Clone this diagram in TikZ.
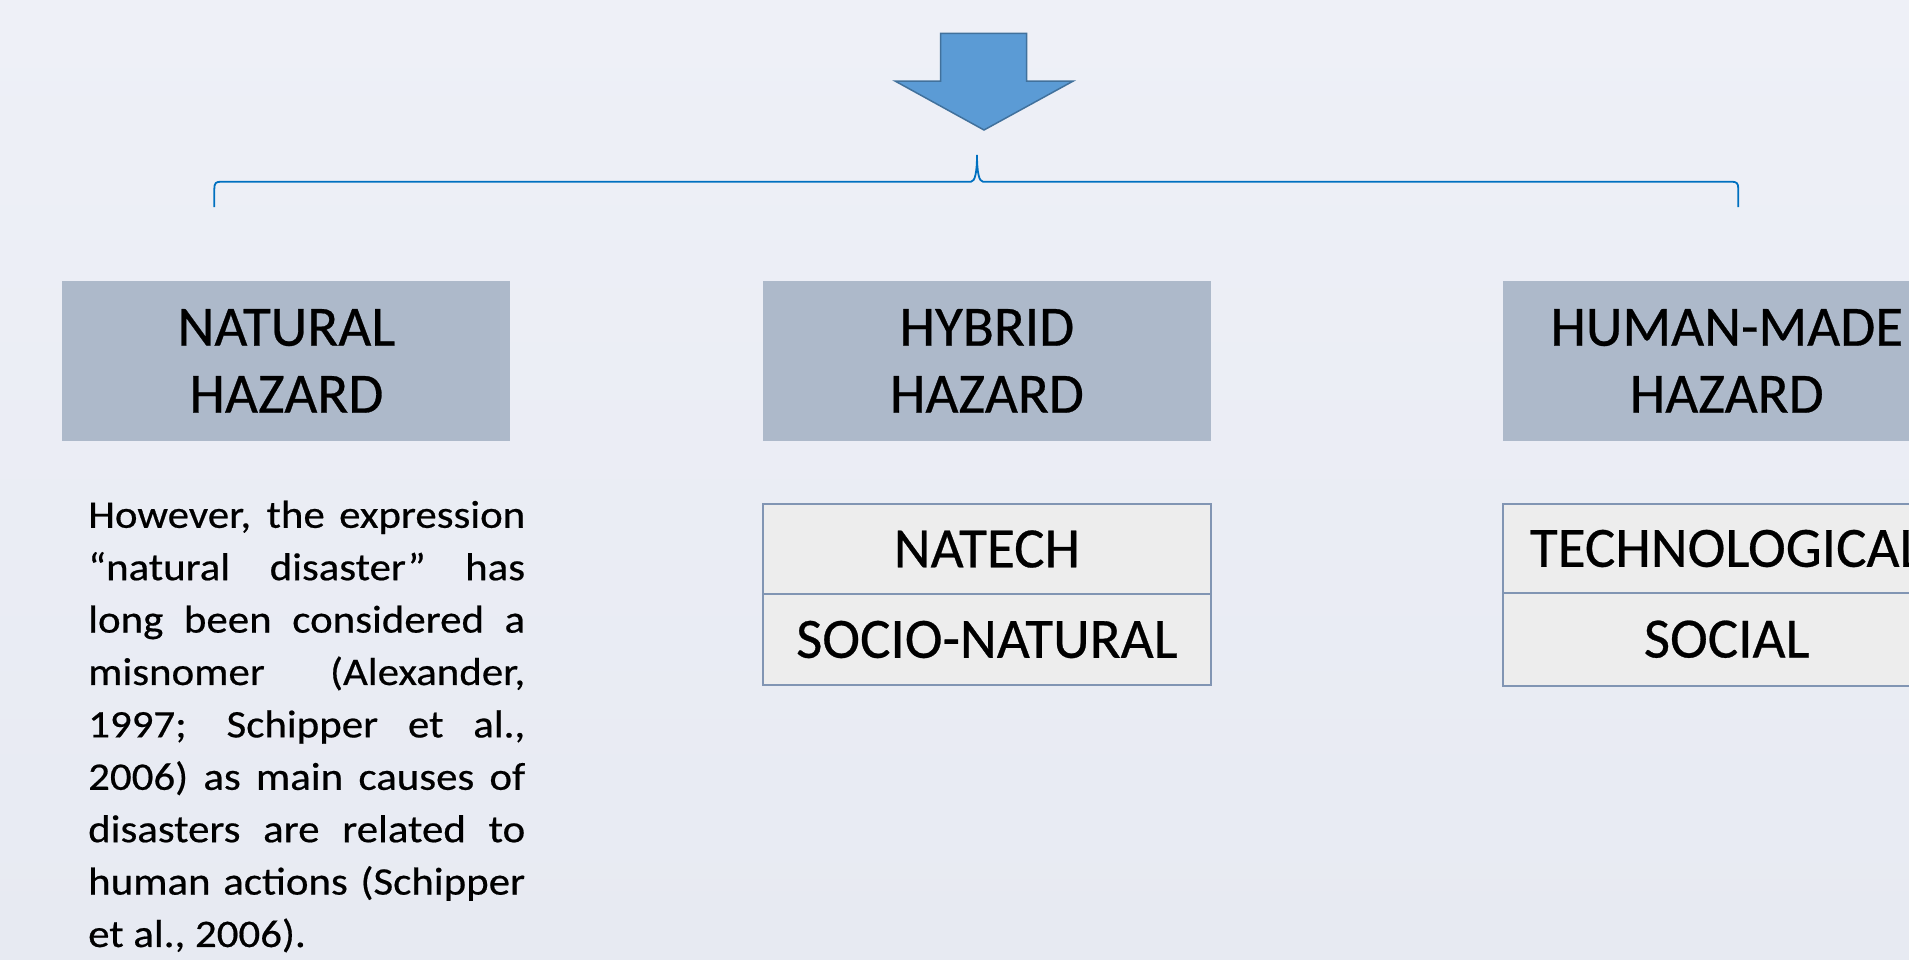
\documentclass[tikz,border=0pt]{standalone}
\usepackage{fontspec}
\setmainfont{Carlito}
\newfontfamily\hdrfont[FakeBold=0.5]{Carlito}
\newfontfamily\parafont[FakeStretch=1.10,FakeBold=0.5]{Carlito}
\definecolor{bgtop}{HTML}{EEF0F7}
\definecolor{bgbot}{HTML}{E7EAF2}
\definecolor{arrowfill}{HTML}{5B9BD5}
\definecolor{arrowline}{HTML}{41719C}
\definecolor{bracecol}{HTML}{0070C0}
\definecolor{hdrfill}{HTML}{ADB9CA}
\definecolor{subfill}{HTML}{EDEDED}
\definecolor{subline}{HTML}{8195B3}
\begin{document}
\begin{tikzpicture}[x=1pt,y=-1pt,
  hdr/.style={fill=hdrfill, inner sep=0pt, align=center, minimum width=448pt, minimum height=159.7pt,
    font=\hdrfont\fontsize{57}{67}\selectfont},
  subbox/.style={draw=subline, line width=2pt, fill=subfill, inner sep=0pt, minimum width=448pt,
    font=\hdrfont\fontsize{57}{67}\selectfont},
  bigarrow/.style={fill=arrowfill, draw=arrowline, line width=1.5pt, line join=miter},
  bracestyle/.style={draw=bracecol, line width=1.8pt},
  para/.style={inner sep=0pt, align=left, anchor=north west,
    font=\parafont\fontsize{39}{52.4}\selectfont}
]
\fill[top color=bgtop, bottom color=bgbot] (0,0) rectangle (1909,959);
\useasboundingbox (0,0) rectangle (1909,959);
\clip (0,0) rectangle (1909,959);

% big down arrow
\path[bigarrow] (940.7,33.3) -- (1026.7,33.3) -- (1026.7,81) -- (1073.3,81) -- (984,130)
  -- (895,81) -- (940.7,81) -- cycle;

% brace
\coordinate (bl) at (214.3,207);
\coordinate (br) at (1738.3,207);
\coordinate (bt) at (977,155);
\draw[bracestyle] (bl) -- (214.3,189) .. controls (214.3,183) and (216,181.7) .. (221,181.7)
  -- (971,181.7) .. controls (975,181.7) and (977,172) .. (bt)
  .. controls (977,172) and (979,181.7) .. (983,181.7)
  -- (1731.5,181.7) .. controls (1736.5,181.7) and (1738.3,183) .. (1738.3,189) -- (br);

% headers
\node[hdr] (nat) at (286.4,360.9) {NATURAL\\HAZARD};
\node[hdr] (hyb) at (986.9,360.9) {HYBRID\\HAZARD};
\node[hdr] (hum) at (1726.7,360.9) {HUMAN-MADE\\HAZARD};

% sub boxes
\node[subbox, minimum height=90pt] (natech) at (986.9,549) {NATECH};
\node[subbox, minimum height=91pt] (socio) at (986.9,639.5) {SOCIO-NATURAL};
\node[subbox, minimum height=88.5pt] (tech) at (1726.7,548.5) {TECHNOLOGICAL};
\node[subbox, minimum height=93pt] (social) at (1726.7,639.2) {SOCIAL};

% paragraph
\node[para] (txt) at (88,500.5) {%
\makebox[437pt][s]{However, the expression}\\
\makebox[437pt][s]{“natural disaster” has}\\
\makebox[437pt][s]{long been considered a}\\
\makebox[437pt][s]{misnomer (Alexander,}\\
\makebox[437pt][s]{1997; Schipper et al.,}\\
\makebox[437pt][s]{2006) as main causes of}\\
\makebox[437pt][s]{disasters are related to}\\
\makebox[437pt][s]{human actions (Schipper}\\
et al., 2006).};
\end{tikzpicture}
\end{document}
